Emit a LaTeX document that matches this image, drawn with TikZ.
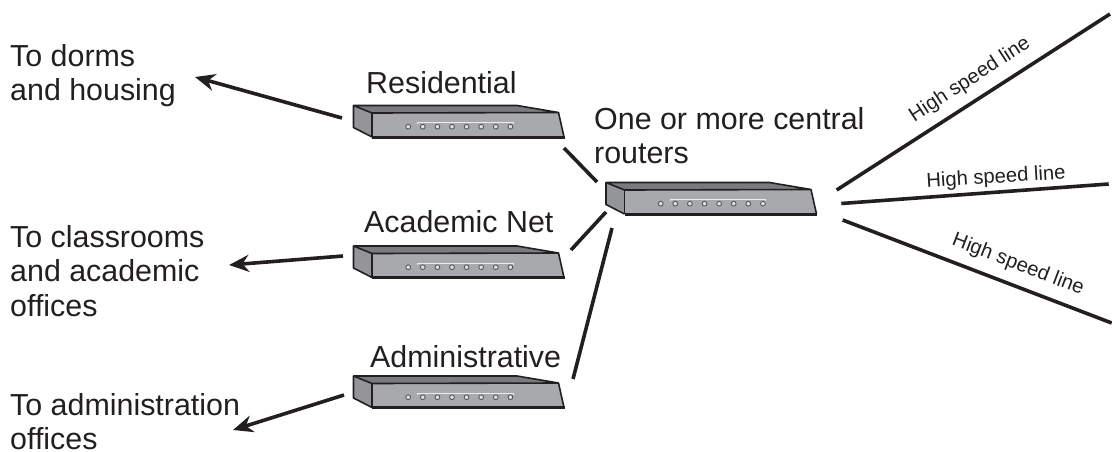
\documentclass[tikz,border=0pt]{standalone}
\usepackage{fontspec}
\setmainfont{Liberation Sans}
\usetikzlibrary{arrows.meta}
\definecolor{frontc}{HTML}{A7A9AC}
\definecolor{sidec}{HTML}{939598}
\definecolor{topc}{HTML}{7A7B7E}
\definecolor{inkc}{HTML}{231F20}
\tikzset{
  x=1pt,y=-1pt,
  biglabel/.style={font=\fontsize{30.4}{34.5}\selectfont,text=inkc,align=left,inner sep=0pt,anchor=north west},
  speedlabel/.style={font=\fontsize{20.2}{24}\selectfont,text=inkc,inner sep=0pt},
  wire/.style={draw=inkc,line width=3.6pt},
  feed/.style={draw=inkc,line width=3.6pt,-{Stealth[length=20pt,width=17pt]}},
  routerbox/.style={draw=none,inner sep=0pt,minimum width=212pt,minimum height=32pt},
}
\newcommand{\routerpic}[3]{%
  \begin{scope}[shift={(#2,#3)}]
    \fill[topc] (0,0) -- (163.5,0) -- (205,7) -- (18.5,7.5) -- cycle;
    \fill[sidec] (0,0) -- (18.5,7.5) -- (18.5,31.5) -- (0,22) -- cycle;
    \fill[frontc] (18.5,7.5) -- (205,7) -- (210.5,31.5) -- (18.5,31.5) -- cycle;
    \draw[inkc,line width=1.6pt,line join=round] (0,0) -- (163.5,0) -- (205,7) -- (18.5,7.5) -- cycle;
    \draw[inkc,line width=1.6pt,line join=round] (205,7) -- (210.5,31.5);
    \draw[inkc,line width=1.6pt,line join=round] (18.5,7.5) -- (18.5,31.5);
    \draw[inkc,line width=1.6pt,line join=round] (0,0) -- (0,22) -- (18.5,31.5);
    \draw[inkc,line width=3pt] (18.5,31.5) -- (211,31.5);
    \draw[white!92!black,line width=.9pt] (64,18.5) -- (64,17) -- (159.5,17) -- (159.5,18.5);
    \foreach \k in {0,...,7}
      \draw[inkc!75,fill=white!88!black,line width=.9pt] (54.7+14.6*\k,21.2) circle (2.4);
    \node[routerbox] (#1) at (105,16) {};
  \end{scope}}
\begin{document}
\begin{tikzpicture}
\useasboundingbox (0,0) rectangle (1112,451);
\routerpic{res}{353.5}{105.5}
\routerpic{acad}{353.5}{246}
\routerpic{admin}{353.5}{376}
\routerpic{core}{606}{182.5}

\node[biglabel] (ldorm) at (10,44) {To dorms\\and housing};
\node[biglabel] (lclass) at (10,225) {To classrooms\\and academic\\offices};
\node[biglabel] (ladm) at (10,393) {To administration\\offices};
\node[biglabel] (lres) at (366,71) {Residential};
\node[biglabel] (lacad) at (364,210) {Academic Net};
\node[biglabel] (ladmin) at (370,345) {Administrative};
\node[biglabel] (lcore) at (594,107) {One or more central\\routers};

\coordinate (a1s) at (342,118); \coordinate (a1e) at (195,77);
\coordinate (a2s) at (343,256); \coordinate (a2e) at (229,265);
\coordinate (a3s) at (344,395); \coordinate (a3e) at (233,430);
\draw[feed] (a1s) -- (a1e);
\draw[feed] (a2s) -- (a2e);
\draw[feed] (a3s) -- (a3e);

\coordinate (c1s) at (564,148); \coordinate (c1e) at (597,182);
\coordinate (c2s) at (571,250); \coordinate (c2e) at (606,212);
\coordinate (c3s) at (573,379); \coordinate (c3e) at (612,228);
\draw[wire] (c1s) -- (c1e);
\draw[wire] (c2s) -- (c2e);
\draw[wire] (c3s) -- (c3e);

\coordinate (h1s) at (836.7,190); \coordinate (h1e) at (1110,14);
\coordinate (h2s) at (841.3,203.5); \coordinate (h2e) at (1108.7,184);
\coordinate (h3s) at (842.7,220); \coordinate (h3e) at (1111.7,323);
\draw[wire] (h1s) -- (h1e);
\draw[wire] (h2s) -- (h2e);
\draw[wire] (h3s) -- (h3e);

\node[speedlabel,rotate=33] (s1) at (970,80) {High speed line};
\node[speedlabel,rotate=3.5] (s2) at (996,178) {High speed line};
\node[speedlabel,rotate=-21] (s3) at (1018,265) {High speed line};
\end{tikzpicture}
\end{document}
